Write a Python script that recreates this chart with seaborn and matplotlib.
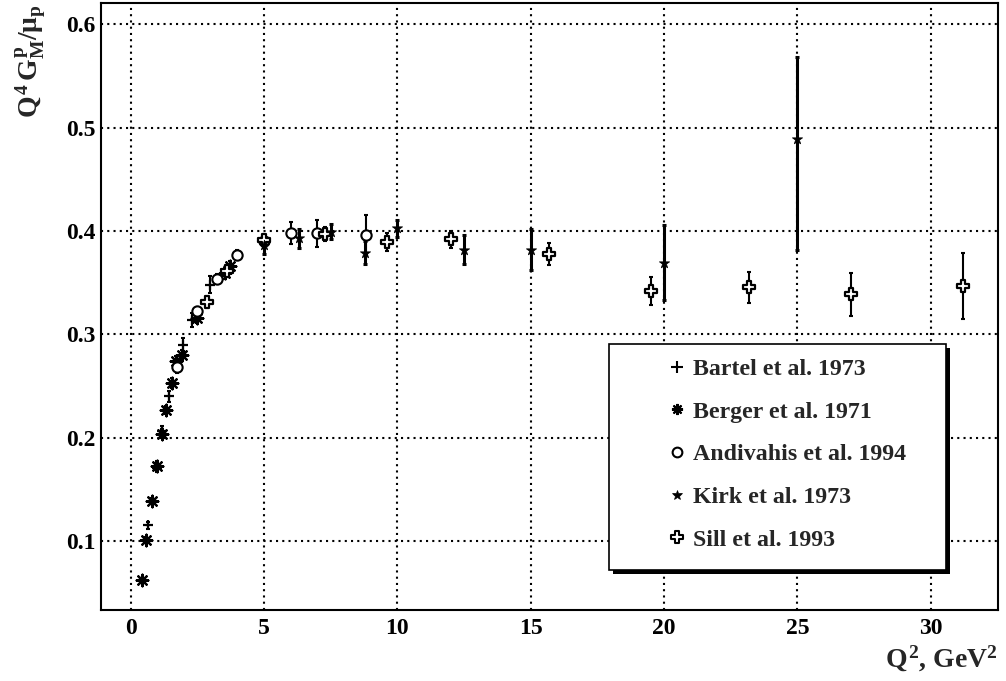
import numpy as np
import pandas as pd
import seaborn as sns
import matplotlib
matplotlib.use("Agg")
import matplotlib.pyplot as plt
from matplotlib.path import Path
from matplotlib.lines import Line2D
from matplotlib.patches import Rectangle
from matplotlib.ticker import MultipleLocator

# ---- data: Q^4 G_M^p / mu_p versus Q^2 (GeV^2) ----
bartel_q2 = [0.66, 0.97, 1.16, 1.45, 1.75, 1.97, 2.29, 2.97]
bartel_val = [0.115, 0.171, 0.206, 0.240, 0.268, 0.290, 0.314, 0.348]
bartel_err = [0.003, 0.004, 0.005, 0.005, 0.005, 0.006, 0.007, 0.008]

berger_q2 = [0.41, 0.58, 0.79, 0.97, 1.16, 1.32, 1.54, 1.70, 1.91, 2.47, 3.54, 3.72]
berger_val = [0.062, 0.101, 0.139, 0.173, 0.204, 0.227, 0.253, 0.274, 0.280, 0.316, 0.359, 0.366]
berger_err = [0.002, 0.003, 0.003, 0.004, 0.004, 0.004, 0.005, 0.005, 0.005, 0.005, 0.005, 0.005]

andivahis_q2 = [1.75, 2.5, 3.25, 4.0, 5.0, 6.0, 7.0, 8.83]
andivahis_val = [0.268, 0.3225, 0.354, 0.3765, 0.390, 0.398, 0.398, 0.396]
andivahis_err = [0.004, 0.004, 0.004, 0.005, 0.006, 0.0105, 0.013, 0.0195]

kirk_q2 = [5.0, 6.3, 7.5, 8.8, 10.0, 12.5, 15.0, 20.0, 25.0]
kirk_val = [0.386, 0.393, 0.3995, 0.379, 0.4025, 0.382, 0.382, 0.3695, 0.4887]
kirk_err_lo = [0.008, 0.009, 0.007, 0.011, 0.008, 0.014, 0.020, 0.036, 0.107]
kirk_err_hi = [0.008, 0.009, 0.007, 0.011, 0.008, 0.014, 0.020, 0.036, 0.080]

sill_q2 = [2.86, 3.62, 5.0, 7.3, 9.6, 12.0, 15.7, 19.5, 23.2, 27.0, 31.2]
sill_val = [0.331, 0.361, 0.391, 0.397, 0.3895, 0.392, 0.3777, 0.3422, 0.3455, 0.3387, 0.3467]
sill_err = [0.004, 0.004, 0.005, 0.007, 0.009, 0.0085, 0.011, 0.0134, 0.015, 0.021, 0.032]

labels = ["Bartel et al. 1973", "Berger et al. 1971", "Andivahis et al. 1994",
          "Kirk et al. 1973", "Sill et al. 1993"]
xticks = [0, 5, 10, 15, 20, 25, 30]
yticks = [0.1, 0.2, 0.3, 0.4, 0.5, 0.6]

# ---- style ----
sns.set_theme(style="white")
plt.rcParams["font.family"] = ["Liberation Serif", "DejaVu Serif"]
plt.rcParams["font.weight"] = "bold"
plt.rcParams["mathtext.fontset"] = "custom"
plt.rcParams["mathtext.rm"] = "Liberation Serif:bold"
plt.rcParams["mathtext.it"] = "Liberation Serif:bold"
plt.rcParams["mathtext.bf"] = "Liberation Serif:bold"

W, H = 1006, 681
fig = plt.figure(figsize=(W / 100, H / 100), dpi=100)
fig.patch.set_facecolor("white")
ax = fig.add_axes([100.7 / W, 1 - 610 / H, (998 - 100.7) / W, (610 - 2.7) / H])
ax.set_facecolor("white")

# open-cross marker outline
a = 0.3
cross_verts = [(-a, 1), (a, 1), (a, a), (1, a), (1, -a), (a, -a), (a, -1), (-a, -1),
               (-a, -a), (-1, -a), (-1, a), (-a, a), (-a, 1)]
cross_codes = [Path.MOVETO] + [Path.LINETO] * 11 + [Path.CLOSEPOLY]
open_cross = Path(cross_verts, cross_codes)
asterisk = (8, 2, 0)

err_kw = dict(fmt="none", ecolor="black", elinewidth=1.5, capsize=1.2, capthick=1.5, zorder=3)

ax.errorbar(bartel_q2, bartel_val, yerr=bartel_err, **err_kw)
ax.errorbar(berger_q2, berger_val, yerr=berger_err, **err_kw)
ax.errorbar(andivahis_q2, andivahis_val, yerr=andivahis_err, **err_kw)
ax.errorbar(kirk_q2, kirk_val, yerr=[kirk_err_lo, kirk_err_hi],
            **{**err_kw, "elinewidth": 2.2, "capthick": 2.2})
ax.errorbar(sill_q2, sill_val, yerr=sill_err, **err_kw)

sns.scatterplot(x=bartel_q2, y=bartel_val, ax=ax, marker="+", s=60, color="black",
                linewidth=1.6, zorder=4, legend=False)
sns.scatterplot(x=berger_q2, y=berger_val, ax=ax, marker=asterisk, s=70, color="black",
                linewidth=1.6, zorder=4, legend=False)
sns.scatterplot(x=andivahis_q2, y=andivahis_val, ax=ax, marker="o", s=55, color="white",
                edgecolor="black", linewidth=1.5, zorder=5, legend=False)
sns.scatterplot(x=sill_q2, y=sill_val, ax=ax, marker=open_cross, s=80, color="white",
                edgecolor="black", linewidth=1.6, zorder=6, legend=False)
sns.scatterplot(x=kirk_q2, y=kirk_val, ax=ax, marker="*", s=60, color="black",
                edgecolor="black", linewidth=0.5, zorder=7, legend=False)

# ---- axes ----
ax.set_xlim(-1.125, 32.52)
ax.set_ylim(0.0332, 0.621)
ax.set_xticks(xticks)
ax.set_xticklabels([str(t) for t in xticks])
ax.set_yticks(yticks)
ax.set_yticklabels([f"{t:.1f}" for t in yticks])
ax.xaxis.set_minor_locator(MultipleLocator(1))
ax.yaxis.set_minor_locator(MultipleLocator(0.02))
ax.tick_params(which="both", direction="in", top=False, right=False, width=1.5,
               color="black", labelsize=17, labelcolor="black")
ax.tick_params(axis="x", which="major", length=13, pad=6)
ax.tick_params(axis="x", which="minor", length=6.5)
ax.tick_params(axis="y", which="major", length=19.4, pad=4)
ax.tick_params(axis="y", which="minor", length=9.7)
for lab in ax.get_xticklabels() + ax.get_yticklabels():
    lab.set_fontweight("bold")
for sp in ax.spines.values():
    sp.set_visible(True)
    sp.set_color("black")
    sp.set_linewidth(1.5)
ax.grid(True, which="major", color="black", linestyle=(0, (1, 2)), linewidth=1.5)
ax.set_axisbelow(True)

fig.text(998 / W, 1 - 667 / H, r"$Q^2$, GeV$^2$", ha="right", va="baseline",
         fontsize=20, fontweight="bold")
fig.text(31 / W, 1 - 4 / H, r"$Q^4\,G_M^p/\mu_p$", rotation=90, ha="center", va="top",
         fontsize=20, fontweight="bold")

# ---- legend box with drop shadow ----
bx0, by0, bx1, by1 = 609, 344, 946, 570
fig.add_artist(Rectangle(((bx0 + 4) / W, 1 - (by1 + 4) / H), (bx1 - bx0) / W, (by1 - by0) / H,
                         transform=fig.transFigure, fc="black", ec="none", zorder=5))
fig.add_artist(Rectangle((bx0 / W, 1 - by1 / H), (bx1 - bx0) / W, (by1 - by0) / H,
                         transform=fig.transFigure, fc="white", ec="black", lw=1.2, zorder=6))

handles = [
    Line2D([], [], ls="none", marker="+", ms=8, mec="black", mew=1.5),
    Line2D([], [], ls="none", marker=asterisk, ms=8, mec="black", mew=1.5),
    Line2D([], [], ls="none", marker="o", ms=7, mfc="white", mec="black", mew=1.5),
    Line2D([], [], ls="none", marker="*", ms=7, mfc="black", mec="black", mew=0.5),
    Line2D([], [], ls="none", marker=open_cross, ms=8, mfc="white", mec="black", mew=1.5),
]
leg = fig.legend(handles=handles, labels=labels, loc="upper left",
                 bbox_to_anchor=(665 / W, 1 - 358.5 / H), bbox_transform=fig.transFigure,
                 frameon=False, borderpad=0, borderaxespad=0, handlelength=1.0,
                 handletextpad=0.18, labelspacing=0.875,
                 prop={"family": "Liberation Serif", "weight": "bold", "size": 17.2})
leg.set_zorder(7)

fig.savefig("out.png", dpi=100, facecolor="white")
